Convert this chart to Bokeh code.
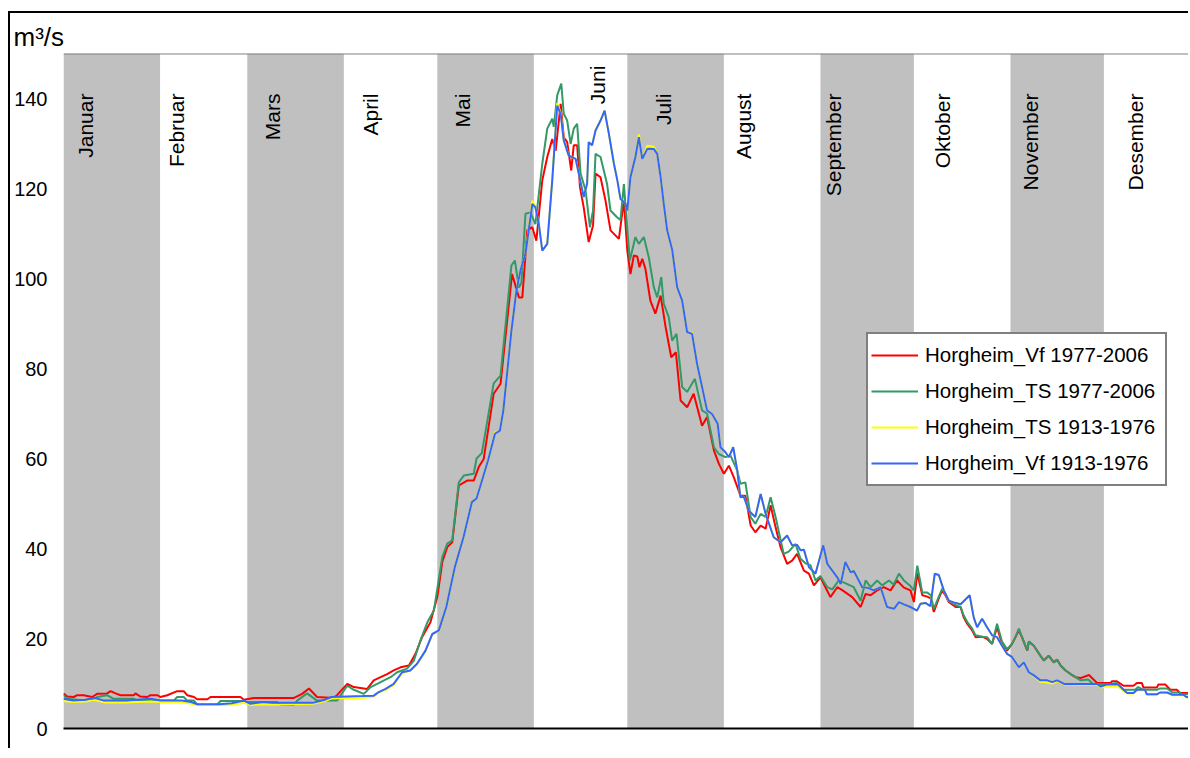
import math
from bokeh.plotting import figure
from bokeh.models import Range1d, FixedTicker, Span, Title, Legend, LegendItem
from bokeh.core.properties import value
from bokeh.embed import file_html
from bokeh.resources import INLINE

# ---------------- data ----------------
months = ["Januar", "Februar", "Mars", "April", "Mai", "Juni", "Juli",
          "August", "September", "Oktober", "November", "Desember"]
month_start = [0, 31, 59, 90, 120, 151, 181, 212, 243, 273, 304, 334]
month_end = [31, 59, 90, 120, 151, 181, 212, 243, 273, 304, 334, 365]
y_ticks = [0, 20, 40, 60, 80, 100, 120, 140]
series_names = ["Horgheim_Vf 1977-2006", "Horgheim_TS 1977-2006",
                "Horgheim_TS 1913-1976", "Horgheim_Vf 1913-1976"]

# (day of year, m3/s)
vf_1977_2006 = [
    (0, 7.8), (1.2, 7.1), (3.3, 7.0), (4.4, 7.4), (6.5, 7.4), (9.2, 7.0), (10.8, 7.7), (14, 7.8),
    (15.1, 8.3), (16.7, 7.8), (18.3, 7.4), (22.6, 7.4), (23.1, 7.8), (24.7, 7.1), (26.9, 7.0),
    (27.9, 7.4), (30.1, 7.4), (31.1, 7.0), (33.3, 7.4), (36.5, 8.3), (38.6, 8.3), (39.7, 7.4),
    (41.9, 7.0), (42.9, 6.5), (46.2, 6.5), (47.2, 7.0), (56.8, 7.0), (57.9, 6.4), (61.1, 6.8),
    (74, 6.8), (76.6, 7.7), (78.8, 8.9), (81.4, 7.0), (86.7, 6.8), (87.8, 7.4), (91.1, 9.9),
    (93.2, 9.2), (97.5, 8.8), (99.6, 10.7), (101.8, 11.4), (103.9, 12.1), (106, 12.9),
    (108.2, 13.6), (110.9, 14.0), (113, 16.6), (115.1, 20.3), (117.8, 23.6), (120, 29.2),
    (121.6, 37.0), (123.2, 40.3), (124.8, 41.4), (126.9, 54.0), (129.6, 55.1), (131.7, 55.1),
    (133.3, 58.1), (134.9, 59.9), (138.1, 74.4), (140.3, 76.6), (144, 101.0), (146.2, 95.8),
    (147.3, 95.8), (148.9, 110.7), (150.5, 111.4), (151.8, 108.4), (153.7, 121.8), (155.3, 127.0),
    (156.9, 131.0), (158, 128.4), (159.6, 138.8), (160.6, 131.4), (161.7, 130.3), (163, 124.0),
    (163.8, 129.6), (164.9, 129.6), (165.8, 120.3), (167, 115.8), (168.6, 108.1), (170, 111.8),
    (170.8, 123.3), (172.4, 122.5), (174, 117.3), (175.6, 110.7), (178.3, 108.8), (179.9, 117.3),
    (181, 106.2), (182, 101.0), (183.1, 105.1), (184.2, 104.9), (184.9, 102.5), (185.8, 104.4),
    (186.8, 102.2), (188.4, 95.1), (190, 92.2), (191.7, 96.2), (193.3, 89.2), (195.1, 82.5),
    (196.6, 83.6), (198.1, 72.9), (200.2, 71.4), (202.3, 74.4), (205, 67.3), (206.6, 69.2),
    (208.8, 61.8), (210.4, 58.8), (212, 56.6), (213.6, 58.4), (215.2, 55.8), (217.3, 51.8),
    (218.9, 51.7), (220.6, 45.1), (222.1, 43.6), (223.8, 45.1), (225.4, 44.4), (227, 49.6),
    (228.6, 44.7), (230.2, 40.3), (232.3, 36.6), (233.9, 37.3), (235.5, 38.8), (237.7, 35.1),
    (239.3, 34.4), (240.9, 31.8), (243, 33.6), (244.6, 31.4), (246.2, 29.2), (248.4, 31.4),
    (250.1, 30.7), (253.2, 29.2), (255.9, 27.0), (257.5, 29.9), (259.1, 29.6), (261.2, 30.7),
    (263.3, 31.4), (265.5, 30.7), (267.6, 32.9), (269.8, 31.3), (271.9, 30.7), (273, 28.1),
    (274.1, 34.5), (275.7, 29.6), (277.3, 29.3), (278.4, 28.9), (279.4, 25.9), (281, 28.9),
    (282.1, 30.7), (283.1, 29.6), (284.2, 28.1), (286.4, 27.0), (288, 27.0), (289, 24.7),
    (290.1, 23.3), (291.7, 21.8), (292.8, 20.3), (294.9, 20.4), (296.5, 19.9), (298.1, 18.8),
    (299.7, 22.5), (301.3, 18.8), (302.9, 17.3), (304.5, 18.8), (305.6, 20.3), (306.7, 21.8),
    (307.7, 20.3), (309.4, 17.3), (309.9, 19.3), (311.5, 18.4), (313.6, 16.2), (314.7, 15.1),
    (316.3, 16.2), (317.9, 14.7), (319, 15.3), (320.1, 14.0), (321.7, 12.9), (323.3, 12.1),
    (324.9, 11.4), (326.5, 11.2), (329.2, 11.9), (331.8, 10.1), (336.1, 10.1), (336.6, 10.5),
    (338.2, 10.5), (340.3, 9.5), (343.5, 9.5), (344.6, 10.1), (346.2, 10.1), (346.7, 9.1),
    (351, 9.1), (351.5, 9.8), (353.7, 9.8), (355.3, 8.6), (357.4, 8.6), (358.4, 7.9),
    (361.8, 7.9), (365, 7.7)]

ts_1977_2006 = [
    (0, 7.4), (1.2, 6.6), (6.5, 6.2), (9.2, 6.2), (10.8, 7.0), (14, 7.4), (16.1, 6.6), (22.6, 6.6),
    (23.6, 6.2), (35.4, 6.2), (36.5, 7.0), (38.6, 7.0), (39.7, 6.2), (41.9, 6.2), (42.9, 5.3),
    (49.3, 5.3), (50.4, 6.1), (57.9, 6.1), (58.9, 5.9), (68.6, 5.9), (69.6, 5.3), (74, 5.3),
    (75, 6.2), (78.2, 7.8), (81.4, 6.2), (87.8, 6.2), (91.1, 9.5), (93.2, 8.6), (96.4, 7.7),
    (98.6, 9.2), (100.7, 9.9), (102.9, 10.7), (105, 11.4), (107.1, 12.5), (110.3, 13.3),
    (112.5, 15.1), (114.6, 19.6), (116.8, 23.6), (118.9, 26.2), (121.6, 38.1), (123.2, 41.1),
    (124.8, 41.8), (126.9, 54.7), (128.5, 56.2), (131.7, 56.6), (132.6, 60.0), (134.3, 61.2),
    (138.1, 76.7), (140.3, 78.4), (143.8, 102.9), (144.9, 104.0), (146.2, 98.0), (147, 99.0),
    (148.3, 114.4), (149.9, 114.7), (151.5, 112.1), (153.7, 125.5), (155.3, 133.3), (156.9, 135.5),
    (157.4, 133.7), (158.5, 140.7), (159.8, 143.3), (160.6, 136.6), (161.7, 135.1), (162.8, 129.9),
    (163.8, 133.3), (164.9, 134.4), (166, 123.3), (167.6, 119.6), (169, 111.4), (170, 115.1),
    (170.8, 127.7), (172.4, 127.0), (174.5, 121.0), (175.6, 115.1), (177.7, 113.6), (178.8, 113.0),
    (179.9, 121.0), (180.7, 113.6), (181.8, 104.0), (183.6, 109.2), (184.7, 107.7), (186.3, 109.2),
    (187.9, 104.7), (189.5, 98.1), (190.6, 95.8), (191.9, 100.3), (192.7, 94.4), (194.3, 91.4),
    (195.4, 86.2), (196.8, 87.7), (198.6, 75.9), (200.2, 74.8), (202.7, 77.7), (205, 70.7),
    (206.6, 70.0), (208.8, 62.5), (210.4, 61.0), (212.5, 60.3), (214.1, 60.7), (216.3, 57.3),
    (217.3, 54.4), (218.9, 54.7), (220.6, 47.0), (222.1, 45.5), (223.8, 47.7), (225.4, 47.0),
    (227, 51.4), (228.6, 47.0), (231.2, 38.8), (232.8, 39.3), (235, 41.0), (236.6, 37.7),
    (238.2, 36.7), (239.8, 36.3), (241.4, 32.9), (243, 33.9), (245.2, 31.4), (246.8, 30.9),
    (248.9, 32.9), (250.6, 32.4), (253.7, 31.4), (255.9, 28.4), (257.5, 32.9), (259.1, 31.4),
    (261.2, 32.9), (262.8, 31.8), (265, 32.9), (266.5, 32.0), (268.2, 34.4), (269.8, 32.9),
    (271.7, 31.8), (273, 30.7), (274.1, 36.2), (275.7, 30.2), (277.3, 30.2), (278.4, 29.6),
    (279.4, 26.6), (281, 29.3), (282.1, 31.1), (283.1, 30.0), (284.2, 28.4), (286.4, 27.4),
    (288, 27.0), (289, 25.1), (290.1, 23.7), (291.7, 22.2), (292.8, 20.7), (294.9, 20.4),
    (296.5, 20.3), (298.1, 18.8), (299.7, 23.3), (301.3, 19.3), (302.9, 17.6), (304.5, 18.8),
    (305.6, 20.3), (306.7, 22.2), (307.7, 20.3), (309.4, 17.3), (309.9, 19.3), (311.5, 18.4),
    (313.6, 16.2), (314.7, 15.1), (316.3, 16.2), (317.9, 14.7), (319, 15.3), (320.1, 14.0),
    (321.7, 12.9), (323.3, 12.1), (324.9, 11.4), (326.5, 10.7), (329, 10.9), (330.5, 9.9),
    (336.1, 9.9), (338.2, 10.1), (340.3, 8.6), (344, 8.6), (345, 9.2), (346.7, 8.6), (351, 8.6),
    (352, 8.9), (354.3, 8.9), (356, 8.0), (358.4, 8.0), (359, 7.6), (361.8, 7.6), (365, 7.5)]

vf_1913_1976 = [
    (0, 6.6), (3, 6.2), (7, 6.4), (10, 6.8), (13, 6.2), (20, 6.2), (28, 6.6), (31, 6.2), (38, 6.2),
    (41, 5.9), (43, 5.4), (50, 5.4), (54, 5.6), (58, 6.2), (60, 5.5), (64, 5.9), (67, 5.7),
    (80, 5.7), (84, 6.4), (86, 7.0), (96, 7.2), (99.6, 7.3), (101.2, 8.1), (103.4, 8.8),
    (106, 9.9), (108.7, 12.5), (111.3, 12.9), (113.5, 14.4), (116.2, 17.3), (118.4, 21.0),
    (120.5, 21.8), (122.9, 27.0), (125.6, 35.8), (128.4, 42.5), (131.1, 50.3), (132.6, 51.1),
    (133.7, 53.6), (136.3, 59.6), (138.5, 65.5), (140.1, 66.2), (141.2, 70.7), (143.8, 88.4),
    (145.4, 97.3), (146.7, 101.8), (148.3, 105.5), (150.5, 116.6), (151.5, 115.8), (152.6, 112.1),
    (153.7, 106.2), (155.3, 107.7), (156.9, 121.8), (158.5, 138.4), (159.6, 136.6), (160.6, 130.7),
    (162.2, 127.3), (164.4, 126.6), (167, 118.1), (168.1, 121.1), (168.6, 130.3), (169.7, 129.6),
    (170.8, 132.9), (172.4, 135.1), (173.7, 137.3), (175.1, 132.1), (176.7, 125.5), (177.8, 121.8),
    (178.8, 117.7), (180.4, 116.6), (181, 115.1), (182, 122.5), (183.6, 127.0), (184.7, 131.4),
    (185.8, 126.6), (187.4, 128.8), (189.5, 128.8), (190.6, 127.7), (191.7, 122.5), (192.7, 116.6),
    (193.8, 110.7), (195.4, 106.4), (197, 98.1), (198.6, 95.1), (200.2, 88.1), (201.8, 87.7),
    (203.4, 81.0), (205, 75.9), (206.6, 70.7), (208.2, 69.9), (210, 67.7), (210.9, 62.5),
    (212.5, 61.4), (213.6, 60.3), (215, 62.5), (216.3, 57.3), (217.3, 51.4), (218.4, 51.5),
    (220, 48.4), (222.1, 47.0), (223.8, 52.1), (225.4, 47.7), (228, 42.5), (230.2, 41.4),
    (232.3, 42.9), (233.9, 40.7), (235.5, 40.8), (236.6, 39.6), (237.7, 39.7), (239.3, 35.9),
    (241.4, 34.4), (243.9, 40.7), (245.2, 36.6), (246.8, 35.1), (248.4, 33.6), (249.5, 32.1),
    (251, 37.0), (252.7, 34.7), (253.7, 35.0), (255.3, 32.9), (256.4, 31.4), (258, 31.3),
    (260.1, 30.7), (262.3, 31.4), (264.4, 27.0), (266.6, 26.6), (268.2, 28.1), (269.8, 27.6),
    (271.9, 27.0), (274, 26.2), (275.1, 27.7), (276.7, 27.9), (278.3, 27.2), (279.7, 34.4),
    (281, 34.1), (282.6, 30.7), (284.2, 28.4), (285.8, 28.0), (288, 27.6), (290.9, 29.6),
    (292.2, 24.7), (293.3, 22.5), (294.9, 24.4), (296.5, 22.5), (298.1, 20.7), (299.7, 20.3),
    (301.3, 18.4), (302.9, 16.6), (304.5, 15.9), (306.7, 13.6), (308.3, 14.7), (309.9, 12.5),
    (311.5, 11.8), (313.6, 10.7), (315.8, 10.7), (317.4, 10.3), (319, 10.7), (321.2, 9.9),
    (323.3, 9.9), (326.5, 9.9), (331.8, 9.9), (333, 9.3), (335, 9.8), (338.5, 9.8), (340.3, 8.6),
    (341.5, 7.9), (343.5, 7.9), (344.6, 8.6), (347.2, 8.6), (347.8, 7.6), (351, 7.6), (352, 8.0),
    (354.3, 8.0), (356, 7.5), (359.5, 7.5), (360.5, 7.0), (365, 7.0)]

ts_1913_1976 = [
    (0, 6.1), (3, 5.9), (7, 6.0), (10, 6.3), (13, 5.8), (20, 5.8), (28, 6.0), (31, 5.9), (38, 5.9),
    (41, 5.5), (43, 5.2), (50, 5.2), (54, 5.3), (58, 5.7), (60, 5.2), (64, 5.4), (67, 5.3),
    (80, 5.5), (84, 6.1), (86, 6.7), (96, 6.8), (99.6, 7.1), (101.2, 8.0), (103.4, 8.6),
    (106, 9.7), (108.7, 12.3), (111.3, 12.8), (113.5, 14.3), (116.2, 17.2), (118.4, 20.9),
    (120.5, 21.7), (122.9, 26.9), (125.6, 35.8), (128.4, 42.5), (131.1, 50.3), (132.6, 51.1),
    (133.7, 53.6), (136.3, 59.6), (138.5, 65.8), (140.1, 66.2), (141.2, 70.7), (143.8, 88.4),
    (145.4, 97.3), (146.7, 101.8), (148.3, 105.5), (150.5, 117.3), (151.5, 115.8), (152.6, 112.1),
    (153.7, 106.2), (155.3, 107.7), (156.9, 121.8), (158.5, 139.0), (159.6, 136.8), (160.6, 130.7),
    (162.2, 127.3), (164.4, 126.6), (167, 118.1), (168.1, 121.1), (168.6, 130.3), (169.7, 129.6),
    (170.8, 132.9), (172.4, 135.1), (173.7, 137.3), (175.1, 132.1), (176.7, 125.5), (177.8, 121.8),
    (178.8, 117.7), (180.4, 116.6), (181, 115.1), (182, 122.5), (183.6, 127.0), (184.7, 132.0),
    (185.8, 126.6), (187.4, 129.5), (189.5, 129.3), (190.6, 127.7), (191.7, 122.5), (192.7, 116.6),
    (193.8, 110.7), (195.4, 106.4), (197, 98.1), (198.6, 95.1), (200.2, 88.1), (201.8, 87.9),
    (203.4, 81.0), (205, 75.9), (206.6, 70.7), (208.2, 69.9), (210, 67.7), (210.9, 62.5),
    (212.5, 61.4), (213.6, 60.3), (215, 62.5), (216.3, 57.3), (217.3, 51.4), (218.4, 51.5),
    (220, 48.4), (222.1, 47.0), (223.8, 52.1), (225.4, 47.7), (228, 42.5), (230.2, 41.4),
    (232.3, 42.9), (233.9, 40.7), (235.5, 40.8), (236.6, 39.6), (237.7, 39.7), (239.3, 35.9),
    (241.4, 34.4), (243.9, 40.7), (245.2, 36.6), (246.8, 35.1), (248.4, 33.6), (249.5, 32.1),
    (251, 37.0), (252.7, 34.7), (253.7, 35.0), (255.3, 32.9), (256.4, 31.4), (258, 31.3),
    (260.1, 30.7), (262.3, 31.4), (264.4, 27.0), (266.6, 26.6), (268.2, 28.1), (269.8, 27.6),
    (271.9, 27.0), (274, 26.2), (275.1, 27.7), (276.7, 27.9), (278.3, 27.2), (279.7, 34.4),
    (281, 34.1), (282.6, 30.7), (284.2, 28.4), (285.8, 28.0), (288, 27.6), (290.9, 29.6),
    (292.2, 24.7), (293.3, 22.5), (294.9, 24.4), (296.5, 22.5), (298.1, 20.7), (299.7, 20.3),
    (301.3, 18.4), (302.9, 16.6), (304.5, 15.9), (306.7, 13.6), (308.3, 14.7), (309.9, 12.5),
    (311.5, 11.6), (313.6, 10.4), (315.8, 10.2), (317.4, 10.0), (319, 10.5), (321.2, 9.8),
    (323.3, 9.8), (326.5, 9.7), (331.8, 9.7), (333, 9.1), (335, 9.4), (338.5, 9.3), (340.3, 8.4),
    (341.5, 7.8), (343.5, 7.8), (344.6, 8.5), (347.2, 8.5), (347.8, 7.5), (351, 7.5), (352, 7.9),
    (354.3, 7.9), (356, 7.4), (359.5, 7.4), (360.5, 6.9), (365, 6.9)]

series = [vf_1977_2006, ts_1977_2006, ts_1913_1976, vf_1913_1976]
series_colors = ["#FF0000", "#339966", "#FFFF00", "#3366FF"]

# label placement (day, top value) for the rotated month names
month_label_day = [7.1, 36.3, 67.1, 98.6, 128.1, 171.4, 192.6, 218.3, 247.2, 282.2, 310.4, 344.1]
month_label_top = [141.1, 141.1, 141.1, 141.1, 141.1, 147.3, 141.1, 141.1, 141.1, 141.1, 141.1, 141.1]

FONT = "Liberation Sans"

# ---------------- figure ----------------
p = figure(width=1180, height=737, x_range=Range1d(0, 361.8), y_range=Range1d(0, 150),
           output_backend="svg", toolbar_location=None, title=None,
           min_border_left=53, min_border_top=40, min_border_bottom=22, min_border_right=0)
p.styles = {"margin-top": "11px", "margin-left": "8px",
            "border-top": "2px solid black", "border-left": "2px solid black"}
p.background_fill_color = "white"
p.border_fill_color = "white"
p.outline_line_color = None
p.grid.visible = False

# alternating month shading
shade_left = [month_start[i] for i in range(0, 12, 2)]
shade_right = [month_end[i] for i in range(0, 12, 2)]
p.quad(left=shade_left, right=shade_right, bottom=0, top=150,
       fill_color="#C0C0C0", line_color=None)

p.add_layout(Span(location=150, dimension="width", line_color="#808080", line_width=2))

p.text(x=month_label_day, y=month_label_top, text=months, angle=math.pi / 2,
       text_align="right", text_baseline="middle", text_color="black",
       text_font=value(FONT), text_font_size=value("21px"))

renderers = []
for data, col in zip(series, series_colors):
    xs = [d for d, q in data]
    ys = [q for d, q in data]
    r = p.line(xs, ys, line_color=col, line_width=2)
    renderers.append(r)

legend = Legend(items=[LegendItem(label=n, renderers=[r]) for n, r in zip(series_names, renderers)],
                location=(803, 242), orientation="vertical",
                label_text_font=FONT, label_text_font_size="20.5px", label_text_color="black",
                glyph_width=47, glyph_height=36, label_height=36, label_width=237,
                label_standoff=7, spacing=0, padding=3, margin=0,
                border_line_color="black", border_line_width=2,
                background_fill_color="white", background_fill_alpha=1.0)
p.add_layout(legend)

# axes
p.yaxis.ticker = FixedTicker(ticks=y_ticks)
p.yaxis.axis_line_color = None
p.yaxis.major_tick_line_color = None
p.yaxis.minor_tick_line_color = None
p.yaxis.major_tick_in = 0
p.yaxis.major_tick_out = 0
p.yaxis.minor_tick_in = 0
p.yaxis.minor_tick_out = 0
p.yaxis.major_label_standoff = 16
p.yaxis.major_label_text_font = FONT
p.yaxis.major_label_text_font_size = "20px"
p.yaxis.major_label_text_color = "black"

p.xaxis.ticker = FixedTicker(ticks=[])
p.xaxis.axis_line_color = "black"
p.xaxis.axis_line_width = 2
p.xaxis.major_tick_line_color = None
p.xaxis.minor_tick_line_color = None
p.xaxis.major_tick_in = 0
p.xaxis.major_tick_out = 0
p.xaxis.minor_tick_in = 0
p.xaxis.minor_tick_out = 0
p.xaxis.major_label_standoff = 0

p.add_layout(Title(text="m³/s", align="left", offset=-50, standoff=3,
                   text_font=FONT, text_font_size="26px", text_font_style="normal",
                   text_color="black"), "above")

open("out.html", "w").write(file_html(p, INLINE))
